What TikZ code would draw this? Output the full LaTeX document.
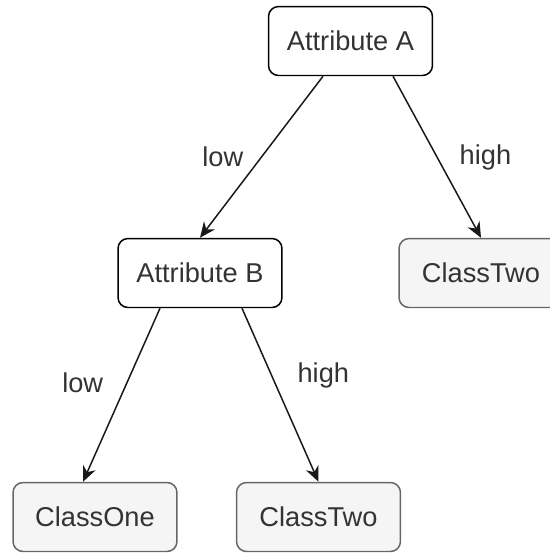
\documentclass[tikz,border=0pt]{standalone}
\usepackage{fontspec}
\setmainfont{Liberation Sans}
\usepackage{tikz}
\usetikzlibrary{arrows.meta}
\definecolor{boxgray}{HTML}{F5F5F5}
\definecolor{edgegray}{HTML}{666666}
\definecolor{textgray}{HTML}{333333}
\tikzset{x=0.02cm, y=-0.02cm,
    tree box/.style={rounded corners=0.2cm, line width=0.85pt,
          minimum width=3.28cm, minimum height=1.38cm, inner sep=0pt,
          text=textgray, font=\fontsize{15.5}{18}\selectfont},
    attribute box/.style={tree box, draw=black, fill=white},
    class box/.style={tree box, draw=edgegray, fill=boxgray},
    branch/.style={line width=0.85pt, draw=black!90, -{Stealth[length=3.1mm, width=2.7mm]}},
    branch label/.style={inner sep=0pt, text=textgray, font=\fontsize{15.5}{18}\selectfont}
    }

\begin{document}
\begin{tikzpicture}
\useasboundingbox (0,0) rectangle (550,555);
\clip (0,0) rectangle (550,555);
\node (AttrA) [attribute box] at (350.5,41) {Attribute A};
\node (AttrB) [attribute box] at (200,273) {Attribute B};
\node (ClassTwoR) [class box] at (481,273) {ClassTwo};
\node (ClassOne) [class box] at (95,517) {ClassOne};
\node (ClassTwoB) [class box] at (318.5,517) {ClassTwo};
% first split
\draw[branch] ([xshift=-0.55cm]AttrA.south) -- (AttrB.north)
  node[branch label, midway, left=0.35cm] {low};
\draw[branch] ([xshift=0.85cm]AttrA.south) -- (ClassTwoR.north)
  node[branch label, midway, right=0.44cm] {high};
% second split
\draw[branch] ([xshift=-0.8cm]AttrB.south) -- ([xshift=-0.24cm]ClassOne.north)
  node[branch label, pos=0.43, left=0.46cm] {low};
\draw[branch] ([xshift=0.84cm]AttrB.south) -- (ClassTwoB.north)
  node[branch label, pos=0.39, right=0.5cm] {high};
\end{tikzpicture}
\end{document}
